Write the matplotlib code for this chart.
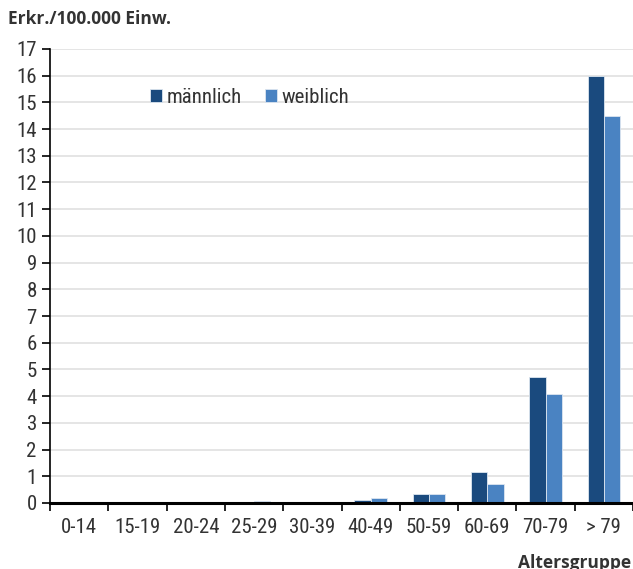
import matplotlib
matplotlib.use("Agg")
import matplotlib.pyplot as plt
from matplotlib import font_manager
import numpy as np

# pick a narrow face if one is installed
names = {f.name for f in font_manager.fontManager.ttflist}
narrow = [n for n in ['Liberation Sans Narrow', 'Roboto Condensed', 'Open Sans Condensed']
          if n in names]
plt.rcParams['font.family'] = narrow + ['Lato', 'DejaVu Sans']

# data
groups = ['0-14', '15-19', '20-24', '25-29', '30-39', '40-49', '50-59', '60-69', '70-79', '> 79']
maennlich = [0.03, 0.0, 0.0, 0.0, 0.0, 0.1, 0.35, 1.17, 4.7, 16.0]
weiblich = [0.03, 0.0, 0.0, 0.08, 0.0, 0.17, 0.32, 0.72, 4.07, 14.5]

c_m = '#1a4a7e'
c_w = '#4a83c2'

fig = plt.figure(figsize=(6.33, 5.69), dpi=100)
ax = fig.add_axes([0.079, 0.116, 0.921, 0.798])

x = np.arange(len(groups))
w = 0.28
ax.bar(x - w / 2, maennlich, w, color=c_m, edgecolor='#dde6f0', linewidth=0.6,
       label='männlich', zorder=3)
ax.bar(x + w / 2, weiblich, w, color=c_w, edgecolor='#dde6f0', linewidth=0.6,
       label='weiblich', zorder=3)

ax.set_xlim(-0.5, len(groups) - 0.5)
ax.set_ylim(0, 17)
ax.set_yticks(range(0, 18))
ax.set_xticks(np.arange(len(groups) + 1) - 0.5, minor=False)
ax.set_xticklabels([])
ax.set_xticks(x, minor=True)
ax.set_xticklabels(groups, minor=True)
ax.tick_params(axis='x', which='minor', length=0, pad=11, labelsize=15, colors='#333333')
ax.tick_params(axis='x', which='major', length=6, width=1.2, direction='out')
ax.tick_params(axis='y', length=6, width=1.2, direction='out', labelsize=15,
               colors='black', labelcolor='#333333')

ax.grid(axis='y', color='#e0e0e0', linewidth=1.2, zorder=0)
for s in ['top', 'right']:
    ax.spines[s].set_visible(False)
ax.spines['left'].set_linewidth(1.2)
ax.spines['bottom'].set_linewidth(2.2)
ax.spines['bottom'].set_zorder(4)

ax.legend(loc='upper left', bbox_to_anchor=(0.14, 0.955), ncol=2, frameon=False,
          fontsize=15, handlelength=0.55, handleheight=0.6, handletextpad=0.25,
          columnspacing=1.1, labelcolor='#333333')

fig.text(0.013, 0.966, 'Erkr./100.000 Einw.', fontsize=12.5, fontweight='bold',
         family=['Open Sans', 'DejaVu Sans'], color='#333333', va='center')
fig.text(0.997, 0.010, 'Altersgruppe', fontsize=12.5, fontweight='bold', ha='right',
         family=['Open Sans', 'DejaVu Sans'], color='#333333', va='center')

fig.savefig('out.png', dpi=100)
